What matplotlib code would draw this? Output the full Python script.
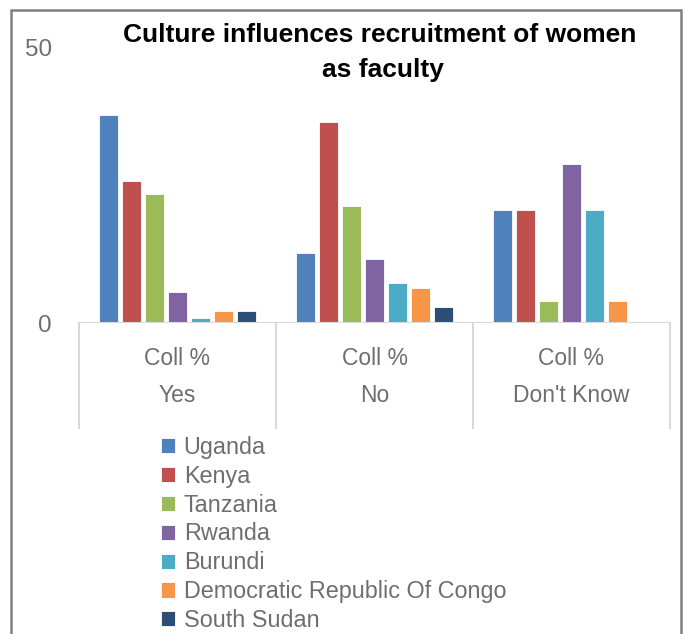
import matplotlib.pyplot as plt
from matplotlib.patches import Rectangle
import numpy as np

# data
groups = ["Yes", "No", "Don't Know"]
countries = ["Uganda", "Kenya", "Tanzania", "Rwanda", "Burundi",
             "Democratic Republic Of Congo", "South Sudan"]
uganda = [37.9, 12.7, 20.6]
kenya = [25.9, 36.5, 20.6]
tanzania = [23.5, 21.3, 4.0]
rwanda = [5.6, 11.6, 29.0]
burundi = [0.9, 7.2, 20.6]
drc = [2.1, 6.3, 4.0]
south_sudan = [2.1, 3.0, 0.0]

series = [uganda, kenya, tanzania, rwanda, burundi, drc, south_sudan]
colors = ["#4F81BD", "#C0504D", "#9BBB59", "#8064A2", "#4BACC6",
          "#F79646", "#2C4D75"]
grey = '#6E6E6E'

plt.rcParams['font.family'] = ['Liberation Sans', 'DejaVu Sans']

fig = plt.figure(figsize=(6.83, 6.34), dpi=100)
ax = fig.add_axes([79 / 683, 1 - 323 / 634, (670 - 79) / 683, (323 - 48) / 634])

x = np.arange(len(groups))
pitch = 0.1168
bw = 0.092
handles = []
for i, (vals, c) in enumerate(zip(series, colors)):
    off = (i - 3) * pitch
    h = ax.bar(x + off, vals, width=bw, color=c, edgecolor='white',
               linewidth=0.6, zorder=3)
    handles.append(h)

ax.set_xlim(-0.5, 2.5)
ax.set_ylim(0, 50)
ax.set_yticks([0, 50])
ax.set_yticklabels(['0', '50'], fontsize=17.5, color=grey)
ax.tick_params(axis='y', length=0, pad=19.5)
ax.tick_params(axis='x', length=0)
ax.set_xticks([])
for s in ax.spines.values():
    s.set_visible(False)

# baseline and category boxes
ax.axhline(0, color='#D9D9D9', lw=1.5, zorder=4)
trans = ax.get_xaxis_transform()
ax_h = (323 - 48)
for b in [-0.5, 0.5, 1.5, 2.5]:
    ax.plot([b, b], [0, -(428 - 323) / ax_h], transform=trans,
            color='#D9D9D9', lw=1.5, clip_on=False)
for gi, g in enumerate(groups):
    ax.text(gi, -(358 - 323) / ax_h, 'Coll %', transform=trans,
            ha='center', va='center', fontsize=16.5, color=grey)
    ax.text(gi, -(395 - 323) / ax_h, g, transform=trans,
            ha='center', va='center', fontsize=16.5, color=grey)

fig.text(380 / 683, 1 - 35 / 634, 'Culture influences recruitment of women',
         ha='center', va='center', fontsize=19, fontweight='bold', color='black')
fig.text(383 / 683, 1 - 70 / 634, 'as faculty',
         ha='center', va='center', fontsize=19, fontweight='bold', color='black')

leg = fig.legend(handles, countries, loc='upper left',
                 bbox_to_anchor=(161 / 683, 1 - 436 / 634),
                 frameon=False, fontsize=16.8, labelcolor=grey,
                 handlelength=0.62, handleheight=0.62, handletextpad=0.35,
                 labelspacing=0.25, borderaxespad=0, borderpad=0)

# outer chart frame (open at the bottom)
fig.add_artist(Rectangle((11 / 683, -0.05), (681 - 11) / 683, 1.05 - 10 / 634,
                         transform=fig.transFigure, fill=False,
                         edgecolor='#808080', lw=1.8))

fig.savefig('out.png', dpi=100)
